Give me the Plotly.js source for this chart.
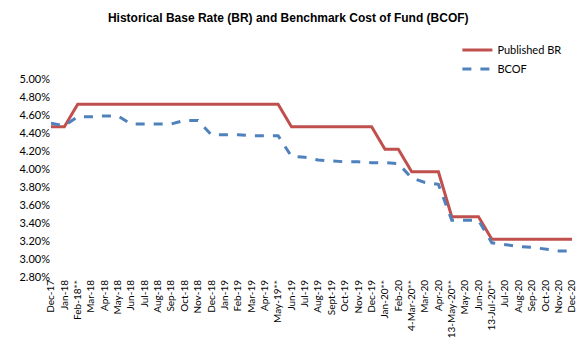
<!DOCTYPE html>
<html>
<head>
<meta charset="utf-8">
<script src="https://cdn.plot.ly/plotly-3.0.1.min.js"></script>
<style>html,body{margin:0;padding:0;background:#fff;}#chart{width:580px;height:348px;}</style>
</head>
<body>
<div id="chart"></div>
<script>
const categories = ["Dec-17","Jan-18","Feb-18**","Mar-18","Apr-18","May-18","Jun-18","Jul-18","Aug-18","Sep-18","Oct-18","Nov-18","Dec-18","Jan-19","Feb-19","Mar-19","Apr-19","May-19**","Jun-19","Jul-19","Aug-19","Sept-19","Oct-19","Nov-19","Dec-19","Jan-20**","Feb-20","4-Mar-20**","Mar-20","Apr-20","13-May-20**","May-20","Jun-20","13-Jul-20**","Jul-20","Aug-20","Sep-20","Oct-20","Nov-20","Dec-20"];
const publishedBR = [4.47,4.47,4.72,4.72,4.72,4.72,4.72,4.72,4.72,4.72,4.72,4.72,4.72,4.72,4.72,4.72,4.72,4.72,4.47,4.47,4.47,4.47,4.47,4.47,4.47,4.22,4.22,3.97,3.97,3.97,3.47,3.47,3.47,3.22,3.22,3.22,3.22,3.22,3.22,3.22];
const bcof = [4.51,4.48,4.58,4.58,4.59,4.59,4.50,4.50,4.50,4.50,4.54,4.54,4.38,4.38,4.38,4.37,4.37,4.37,4.14,4.13,4.10,4.09,4.08,4.08,4.07,4.07,4.06,3.90,3.85,3.83,3.43,3.43,3.43,3.18,3.16,3.14,3.13,3.11,3.09,3.09];
const yTicks = [2.8,3.0,3.2,3.4,3.6,3.8,4.0,4.2,4.4,4.6,4.8,5.0];
const yTickText = yTicks.map(v => v.toFixed(2) + "%");

const traces = [
  {x: categories, y: publishedBR, name: "Published BR", type: "scatter", mode: "lines",
   line: {color: "#C0504D", width: 3}},
  {x: categories, y: bcof, name: "BCOF", type: "scatter", mode: "lines",
   line: {color: "#4F81BD", width: 3, dash: "dash"}}
];
const layout = {
  width: 580, height: 348,
  margin: {l: 51, r: 8, t: 79, b: 71},
  paper_bgcolor: "#fff", plot_bgcolor: "#fff",
  font: {family: "Lato, 'Open Sans', sans-serif", color: "#000"},
  title: {text: "<b>Historical Base Rate (BR) and Benchmark Cost of Fund (BCOF)</b>",
          font: {family: "'Liberation Sans', Arial, sans-serif", size: 12, color: "#000"},
          x: 0.497, xanchor: "center", y: 0.95, yanchor: "middle"},
  xaxis: {type: "category", range: [0, 39], tickangle: -90, tickfont: {size: 10},
          showgrid: false, zeroline: false, showline: false, ticks: "", fixedrange: true},
  yaxis: {range: [2.8, 5.0], tickmode: "array", tickvals: yTicks, ticktext: yTickText,
          tickfont: {size: 11}, showgrid: false, zeroline: false, showline: false, ticks: ""},
  showlegend: true,
  legend: {x: 0.78, y: 1.22, xanchor: "left", yanchor: "top", font: {size: 11},
           bgcolor: "rgba(0,0,0,0)", tracegroupgap: 0}
};
Plotly.newPlot("chart", traces, layout, {displayModeBar: false, staticPlot: true});
</script>
</body>
</html>
